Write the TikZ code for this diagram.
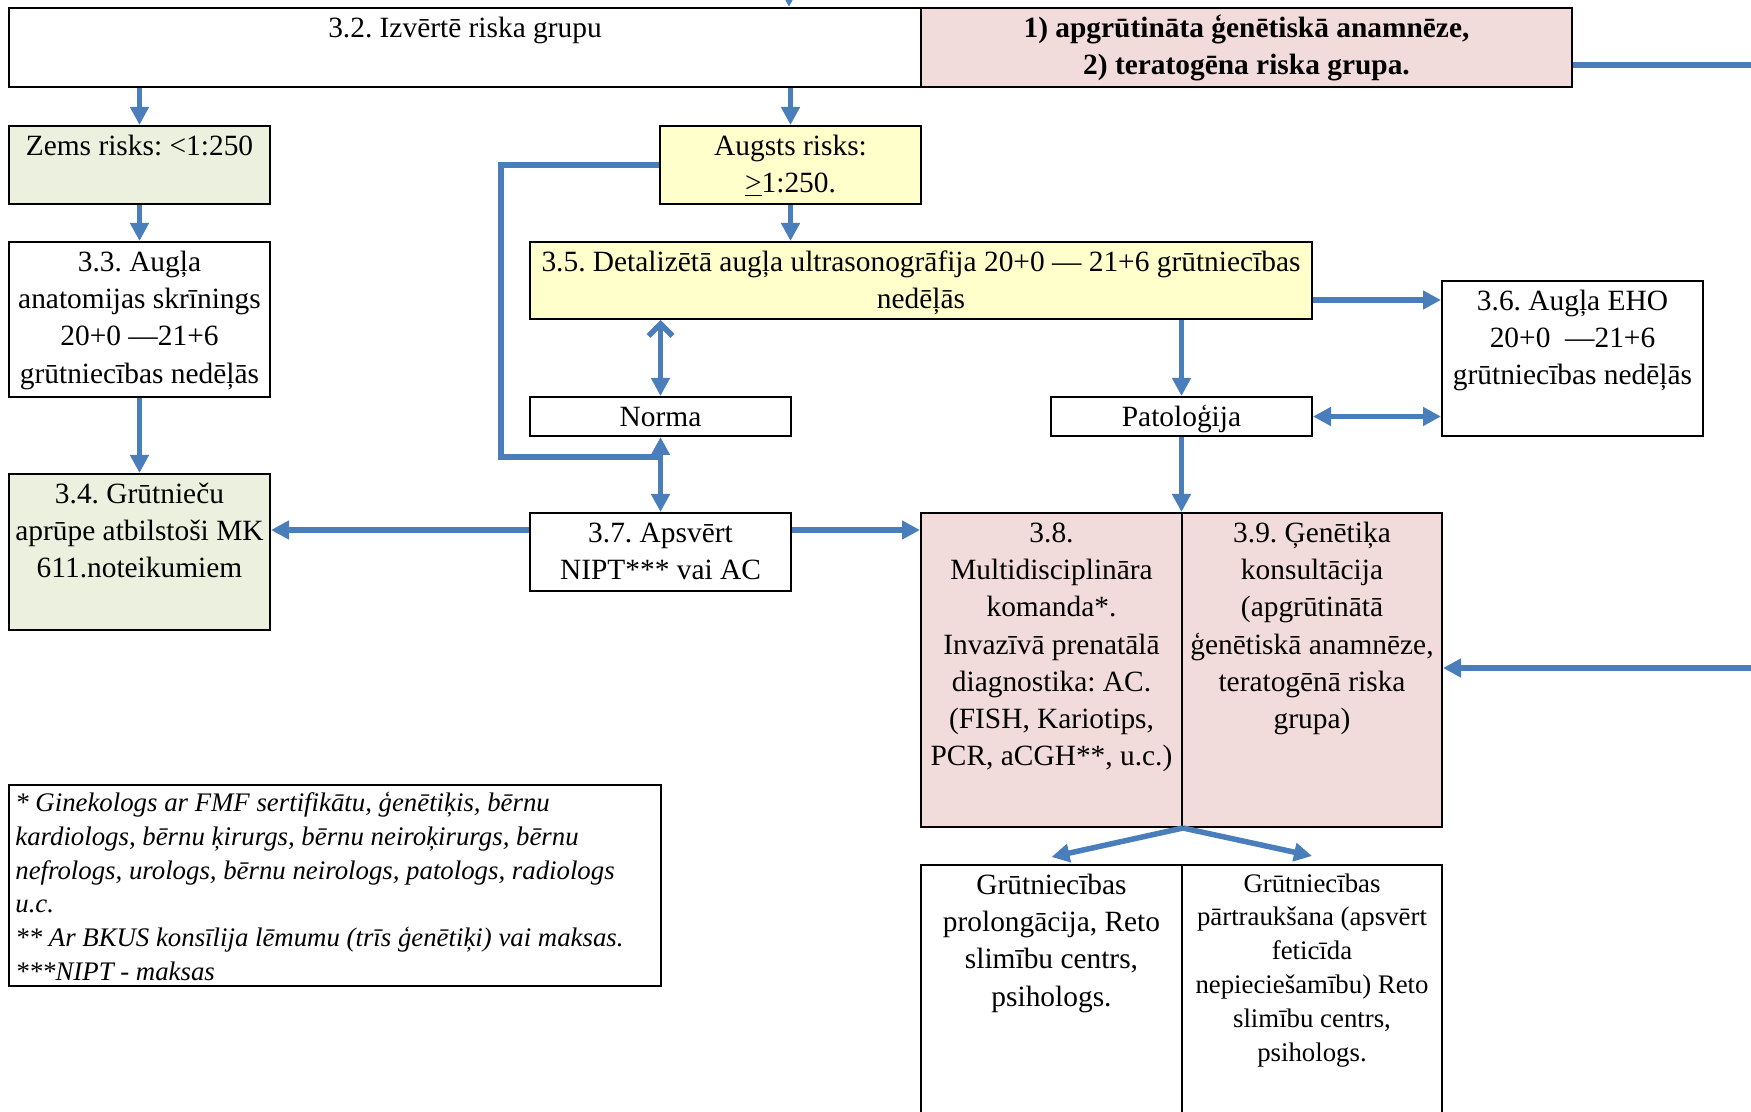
\documentclass[tikz,border=0pt]{standalone}
\usepackage{fontspec}
\setmainfont{Liberation Serif}
\usepackage{tikz}
\usetikzlibrary{arrows.meta,fit,calc}
\frenchspacing

\definecolor{arrowblue}{HTML}{4A7EBB}
\definecolor{boxgreen}{HTML}{EBF1DE}
\definecolor{boxyellow}{HTML}{FFFFCC}
\definecolor{boxpink}{HTML}{F2DCDB}

\newcommand{\mainsize}{\fontsize{14.7pt}{18.6pt}\selectfont}
\newcommand{\notesize}{\fontsize{13.4pt}{16.9pt}\selectfont}

\begin{document}
\begin{tikzpicture}[x=0.5pt, y=-0.5pt,
    box/.style={draw, line width=1pt, inner sep=0pt},
    boxtext/.style={anchor=north, align=flush center, inner sep=0pt, yshift=-2pt,
        text width=395pt, font=\mainsize, execute at begin node=\strut},
    flow/.style={draw=arrowblue, line width=2.75pt, -{Triangle[length=9pt,width=9pt]}},
    both/.style={flow, {Triangle[length=9pt,width=9pt]}-{Triangle[length=9pt,width=9pt]}},
    plain/.style={draw=arrowblue, line width=2.75pt}]

    \useasboundingbox (0,0) rectangle (1751,1112);
    \clip (0,0) rectangle (1751,1112);

    % Define connector rows
    \def\ncRow{530}
    \def\ehoRow{300}
    \def\topRow{65}
    \def\sideRow{668}

    % =========================================================================
    % Risk group
    % =========================================================================
    \node[box, fit={(9,8) (921,87)},
        label={[boxtext]north:{3.2. Izvērtē riska grupu}}] (risk) {};
    \node[box, fill=boxpink, fit={(921,8) (1572,87)},
        label={[boxtext, font=\mainsize\bfseries]north:{1) apgrūtināta ģenētiskā anamnēze,\\2) teratogēna riska grupa.}}] (group) {};

    \node[box, fill=boxgreen, fit={(9,126) (270,204)},
        label={[boxtext]north:{Zems risks: <1:250}}] (low) {};
    \node[box, fill=boxyellow, fit={(660,126) (921,204)},
        label={[boxtext]north:{Augsts risks:\\\underline{>}1:250.}}] (high) {};

    % =========================================================================
    % Ultrasound
    % =========================================================================
    \node[box, fit={(9,242) (270,397)},
        label={[boxtext]north:{3.3. Augļa\\anatomijas skrīnings\\20+0 —21+6\\grūtniecības nedēļās}}] (n33) {};
    \node[box, fill=boxyellow, fit={(530,242) (1312,319)},
        label={[boxtext]north:{3.5. Detalizētā augļa ultrasonogrāfija 20+0 — 21+6 grūtniecības\\nedēļās}}] (n35) {};
    \node[box, fit={(1442,281) (1703,436)},
        label={[boxtext]north:{3.6. Augļa EHO\\20+0 \ —21+6\\grūtniecības nedēļās}}] (n36) {};

    \node[box, fit={(530,397) (791,436)},
        label={[boxtext]north:{Norma}}] (norma) {};
    \node[box, fit={(1051,397) (1312,436)},
        label={[boxtext]north:{Patoloģija}}] (pat) {};

    % =========================================================================
    % Follow-up
    % =========================================================================
    \node[box, fill=boxgreen, fit={(9,474) (270,630)},
        label={[boxtext]north:{3.4. Grūtnieču\\aprūpe atbilstoši MK\\611.noteikumiem}}] (n34) {};
    \node[box, fit={(530,513) (791,591)},
        label={[boxtext]north:{3.7. Apsvērt\\NIPT*** vai AC}}] (n37) {};
    \node[box, fill=boxpink, fit={(921,513) (1182,827)},
        label={[boxtext]north:{3.8.\\Multidisciplināra\\komanda*.\\Invazīvā prenatālā\\diagnostika: AC.\\(FISH, Kariotips,\\PCR, aCGH**, u.c.)}}] (n38) {};
    \node[box, fill=boxpink, fit={(1182,513) (1442,827)},
        label={[boxtext]north:{3.9. Ģenētiķa\\konsultācija\\(apgrūtinātā\\ģenētiskā anamnēze,\\teratogēnā riska\\grupa)}}] (n39) {};

    \node[box, fit={(921,865) (1182,1140)},
        label={[boxtext]north:{Grūtniecības\\prolongācija, Reto\\slimību centrs,\\psihologs.}}] (prolong) {};
    \node[box, fit={(1182,865) (1442,1140)},
        label={[boxtext, font=\notesize]north:{Grūtniecības\\pārtraukšana (apsvērt\\feticīda\\nepieciešamību) Reto\\slimību centrs,\\psihologs.}}] (stop) {};

    % Footnotes
    \node[box, fit={(9,785) (661,986)},
        label={[boxtext, anchor=north west, align=flush left, xshift=3.5pt, yshift=0.3pt, font=\notesize\itshape]north west:{* Ginekologs ar FMF sertifikātu, ģenētiķis, bērnu\\kardiologs, bērnu ķirurgs, bērnu neiroķirurgs, bērnu\\nefrologs, urologs, bērnu neirologs, patologs, radiologs\\u.c.\\{}** Ar BKUS konsīlija lēmumu (trīs ģenētiķi) vai maksas.\\{}***NIPT - maksas}}] (notes) {};

    % =========================================================================
    % Connectors
    % =========================================================================
    \coordinate (fromtop) at (789,-20);
    \coordinate (toright) at (1760,\topRow);
    \coordinate (fromright) at (1760,\sideRow);
    \coordinate (join) at ($(norma.south)!0.27!(n37.north)$);

    \draw[flow] (fromtop) -- (fromtop |- risk.north);
    \draw[plain] (group.east |- toright) -- (toright);
    \draw[flow] (low.north |- risk.south) -- (low.north);
    \draw[flow] (high.north |- risk.south) -- (high.north);

    \draw[flow] (low.south) -- (n33.north);
    \draw[flow] (high.south) -- (high.south |- n35.north);
    \draw[flow] (n33.south) -- (n34.north);

    % high risk straight to 3.7
    \draw[plain] (high.west) -- ++(-158,0) |- (join);

    \draw[flow, {Straight Barb[length=6pt,width=12pt]}-{Triangle[length=9pt,width=9pt]}]
        (norma.north |- n35.south) -- (norma.north);
    \draw[both] (norma.south) -- (n37.north);
    \draw[flow] (n37.west |- 0,\ncRow) -- (n34.east |- 0,\ncRow);
    \draw[flow] (n37.east |- 0,\ncRow) -- (n38.west |- 0,\ncRow);

    \draw[flow] (pat.north |- n35.south) -- (pat.north);
    \draw[flow] (n35.east |- 0,\ehoRow) -- (n36.west |- 0,\ehoRow);
    \draw[both] (pat.east) -- (pat.east -| n36.west);
    \draw[flow] (pat.south) -- (pat.south |- n38.north);
    \draw[flow] (fromright) -- (fromright -| n39.east);

    \draw[flow] (n38.south east) -- ([yshift=3.5pt]prolong.north);
    \draw[flow] (n38.south east) -- ([yshift=4pt]stop.north);

\end{tikzpicture}
\end{document}
